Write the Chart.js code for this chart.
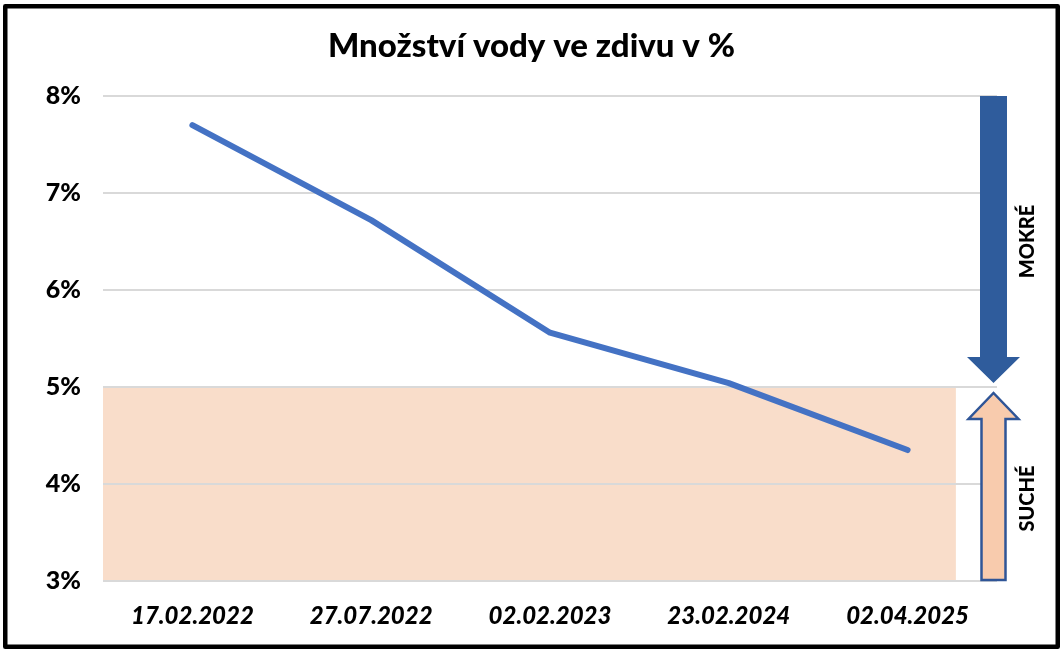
<!DOCTYPE html>
<html>
<head>
<meta charset="utf-8">
<script src="https://cdn.jsdelivr.net/npm/chart.js@4/dist/chart.umd.min.js"></script>
<style>
  body { margin: 0; background: #fff; }
  canvas { display: block; }
</style>
</head>
<body>
<canvas id="chart" width="1063" height="651"></canvas>
<script>
// measurement dates and water content of the masonry (%)
var dates = ['17.02.2022', '27.07.2022', '02.02.2023', '23.02.2024', '02.04.2025'];
var moisture = [7.70, 6.72, 5.56, 5.04, 4.35];
var yTicks = [3, 4, 5, 6, 7, 8];
var dryLimit = 5;
var wetLabel = 'MOKRÉ';
var dryLabel = 'SUCHÉ';

var font = 'Lato, "Open Sans", sans-serif';

// peach "dry" zone under the grid
var dryZone = {
    id: 'dryZone',
    beforeDraw: function(chart) {
        var ctx = chart.ctx, xs = chart.scales.x, ys = chart.scales.y;
        var last = xs.getPixelForValue(dates.length - 1);
        var step = last - xs.getPixelForValue(dates.length - 2);
        var top = ys.getPixelForValue(dryLimit), bottom = ys.getPixelForValue(yTicks[0]);
        ctx.save();
        ctx.fillStyle = '#F9DDCA';
        ctx.fillRect(chart.chartArea.left, top, last + step * 0.27 - chart.chartArea.left, bottom - top);
        ctx.restore();
    }
};

// arrows on the right side + frame
var sideArrows = {
    id: 'sideArrows',
    afterDraw: function(chart) {
        var ctx = chart.ctx, ys = chart.scales.y, area = chart.chartArea;
        var cx = area.right - 3.5;
        var yTop = ys.getPixelForValue(yTicks[yTicks.length - 1]);
        var yMid = ys.getPixelForValue(dryLimit);
        var yBot = ys.getPixelForValue(yTicks[0]);
        var shaft = 13.5, head = 26.5, headLen = 26;

        ctx.save();
        // down arrow (wet)
        var tip = yMid - 4;
        ctx.beginPath();
        ctx.moveTo(cx - shaft, yTop);
        ctx.lineTo(cx + shaft, yTop);
        ctx.lineTo(cx + shaft, tip - headLen);
        ctx.lineTo(cx + head, tip - headLen);
        ctx.lineTo(cx, tip);
        ctx.lineTo(cx - head, tip - headLen);
        ctx.lineTo(cx - shaft, tip - headLen);
        ctx.closePath();
        ctx.fillStyle = '#2F5C9C';
        ctx.fill();

        // up arrow (dry)
        var tip2 = yMid + 6;
        var s2 = 12, h2 = 25;
        ctx.beginPath();
        ctx.moveTo(cx - s2, yBot - 1);
        ctx.lineTo(cx + s2, yBot - 1);
        ctx.lineTo(cx + s2, tip2 + headLen);
        ctx.lineTo(cx + h2, tip2 + headLen);
        ctx.lineTo(cx, tip2);
        ctx.lineTo(cx - h2, tip2 + headLen);
        ctx.lineTo(cx - s2, tip2 + headLen);
        ctx.closePath();
        ctx.fillStyle = '#F8CBAD';
        ctx.fill();
        ctx.lineWidth = 2.5;
        ctx.strokeStyle = '#2F5597';
        ctx.lineJoin = 'miter';
        ctx.stroke();

        // rotated labels
        ctx.fillStyle = '#000';
        ctx.font = '900 20px ' + font;
        ctx.textAlign = 'center';
        ctx.textBaseline = 'middle';
        var tx = area.right + 31;
        ctx.save();
        ctx.translate(tx, (yTop + yMid) / 2);
        ctx.rotate(-Math.PI / 2);
        ctx.fillText(wetLabel, 0, 0);
        ctx.restore();
        ctx.save();
        ctx.translate(tx, ys.getPixelForValue(3.85));
        ctx.rotate(-Math.PI / 2);
        ctx.fillText(dryLabel, 0, 0);
        ctx.restore();

        // outer frame
        ctx.lineWidth = 4.5;
        ctx.strokeStyle = '#000';
        ctx.lineJoin = 'round';
        ctx.strokeRect(5.25, 6.25, 1052.5, 640.5);
        ctx.restore();
    }
};

new Chart(document.getElementById('chart'), {
    type: 'line',
    data: {
        labels: dates,
        datasets: [{
            data: moisture,
            borderColor: '#4472C4',
            borderWidth: 6,
            borderCapStyle: 'round',
            borderJoinStyle: 'round',
            pointRadius: 0,
            tension: 0
        }]
    },
    options: {
        responsive: false,
        animation: false,
        layout: { padding: { top: 14, right: 0, bottom: 21, left: 0 } },
        plugins: {
            legend: { display: false },
            tooltip: { enabled: false },
            title: {
                display: true,
                text: 'Množství vody ve zdivu v %',
                color: '#000',
                font: { family: font, size: 33, weight: 900, lineHeight: 1 },
                padding: { top: 16, bottom: 33 }
            }
        },
        scales: {
            x: {
                offset: true,
                afterFit: function(scale) { scale.height = 49; },
                grid: { display: false, drawTicks: false },
                border: { display: false },
                ticks: {
                    color: '#000',
                    padding: 21,
                    maxRotation: 0,
                    font: { family: font, size: 24, weight: 900, style: 'italic' }
                }
            },
            y: {
                min: yTicks[0],
                max: yTicks[yTicks.length - 1],
                afterFit: function(scale) { scale.width = 103; },
                afterBuildTicks: function(scale) {
                    scale.ticks = yTicks.map(function(v) { return { value: v }; });
                },
                grid: { color: '#D9D9D9', lineWidth: 2, drawTicks: false },
                border: { display: false },
                ticks: {
                    color: '#000',
                    padding: 22,
                    font: { family: font, size: 25, weight: 900 },
                    callback: function(v) { return v + '%'; }
                }
            },
            // empty right-hand band that holds the arrows
            side: {
                type: 'linear',
                position: 'right',
                afterFit: function(scale) { scale.width = 66; },
                grid: { display: false, drawTicks: false },
                border: { display: false },
                ticks: { display: false }
            }
        }
    },
    plugins: [dryZone, sideArrows]
});
</script>
</body>
</html>
